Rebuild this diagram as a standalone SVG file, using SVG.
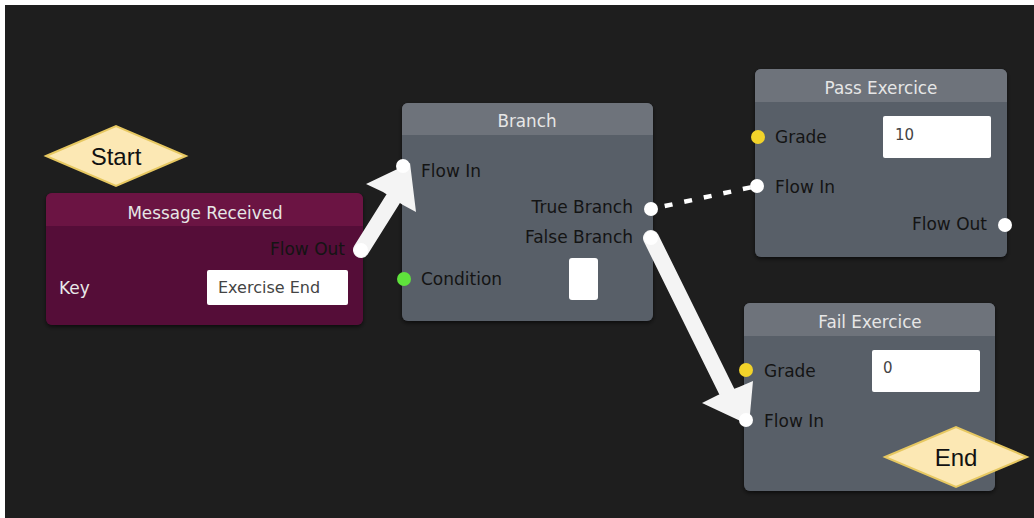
<svg xmlns="http://www.w3.org/2000/svg" width="1034" height="518" viewBox="0 0 1034 518">
<defs>
<style>
.lbl{font-family:"DejaVu Sans","Liberation Sans",sans-serif;font-size:17px;fill:#141414}
.ttl{font-family:"DejaVu Sans","Liberation Sans",sans-serif;font-size:16.8px;fill:#e6e6e6;text-anchor:middle}
.val{font-family:"DejaVu Sans","Liberation Sans",sans-serif;font-size:15px;fill:#444}
.big{font-family:"Liberation Sans",Arial,sans-serif;font-size:24px;fill:#111;text-anchor:middle}
.r{text-anchor:end}
.body{fill:#585e67}
.head{fill:#6e737b}
.box{fill:#ffffff}
.pw{fill:#ffffff}
.py{fill:#f2d32a}
.pg{fill:#5fe23c}
.dia{fill:#fce8b4;stroke:#e7c861;stroke-width:2}
</style>
<filter id="sh" x="-10%" y="-10%" width="120%" height="130%">
<feDropShadow dx="0" dy="2" stdDeviation="2" flood-color="#000" flood-opacity="0.6"/>
</filter>
<clipPath id="c1"><rect x="46" y="193" width="317" height="132" rx="6"/></clipPath>
<clipPath id="c2"><rect x="402" y="103" width="251" height="218" rx="6"/></clipPath>
<clipPath id="c3"><rect x="755" y="69" width="252" height="188" rx="6"/></clipPath>
<clipPath id="c4"><rect x="744" y="303" width="251" height="188" rx="6"/></clipPath>
</defs>
<rect x="0" y="0" width="1034" height="518" fill="#ffffff"/>
<rect x="5" y="5" width="1029" height="513" fill="#1e1e1e"/>

<g id="start">
<polygon class="dia" points="46,156 116,126 186,156 116,186"/>
<text class="big" x="116" y="165">Start</text>
</g>

<g id="message-received">
<rect x="46" y="193" width="317" height="132" rx="6" fill="#550e37" filter="url(#sh)"/>
<rect x="46" y="193" width="317" height="33" fill="#6b1443" clip-path="url(#c1)"/>
<text class="ttl" x="205" y="219">Message Received</text>
<text class="lbl r" x="345" y="255">Flow Out</text>
<text class="lbl" x="59" y="294" style="fill:#e8e8e8">Key</text>
<rect class="box" x="207" y="270" width="141" height="35" rx="2"/>
<text class="val" x="218" y="293" style="font-size:16px">Exercise End</text>
</g>

<g id="branch">
<rect class="body" x="402" y="103" width="251" height="218" rx="6" filter="url(#sh)"/>
<rect class="head" x="402" y="103" width="251" height="32" clip-path="url(#c2)"/>
<text class="ttl" x="527" y="127">Branch</text>
<text class="lbl" x="421" y="177">Flow In</text>
<text class="lbl r" x="633" y="213">True Branch</text>
<text class="lbl r" x="633" y="243">False Branch</text>
<text class="lbl" x="421" y="285">Condition</text>
<rect class="box" x="569" y="258" width="29" height="42" rx="3"/>
<circle class="pg" cx="404" cy="279" r="7"/>
</g>

<g id="pass-exercice">
<rect class="body" x="755" y="69" width="252" height="188" rx="6" filter="url(#sh)"/>
<rect class="head" x="755" y="69" width="252" height="33" clip-path="url(#c3)"/>
<text class="ttl" x="881" y="94">Pass Exercice</text>
<text class="lbl" x="775" y="143">Grade</text>
<rect class="box" x="883" y="116" width="108" height="42" rx="2"/>
<text class="val" x="895" y="140">10</text>
<text class="lbl" x="775" y="193">Flow In</text>
<text class="lbl r" x="987" y="230">Flow Out</text>
<circle class="py" cx="758" cy="137" r="7"/>
<circle class="pw" cx="757" cy="186" r="7"/>
<circle class="pw" cx="1005" cy="225" r="7"/>
</g>

<g id="fail-exercice">
<rect class="body" x="744" y="303" width="251" height="188" rx="6" filter="url(#sh)"/>
<rect class="head" x="744" y="303" width="251" height="33" clip-path="url(#c4)"/>
<text class="ttl" x="870" y="328">Fail Exercice</text>
<text class="lbl" x="764" y="377">Grade</text>
<rect class="box" x="872" y="350" width="108" height="42" rx="2"/>
<text class="val" x="883" y="373">0</text>
<text class="lbl" x="764" y="427">Flow In</text>
<circle class="py" cx="746" cy="370" r="7"/>
</g>

<g id="end">
<polygon class="dia" points="885,457 956,427 1027,457 956,487"/>
<text class="big" x="956" y="466">End</text>
</g>

<g id="connectors">
<line x1="651" y1="209" x2="757" y2="186" stroke="#ffffff" stroke-width="4.5" stroke-dasharray="8,12" stroke-dashoffset="-14"/>
<line x1="361" y1="250" x2="393" y2="199" stroke="#f4f4f4" stroke-width="16" stroke-linecap="round"/>
<polygon points="366,184 410,163 416,212 403,205 383,192" fill="#f4f4f4"/>
<line x1="651" y1="238" x2="727" y2="392" stroke="#f4f4f4" stroke-width="16" stroke-linecap="round"/>
<polygon points="702,403 749,425 753,381 739,387 718,395" fill="#f4f4f4"/>
<circle class="pw" cx="361" cy="250" r="7"/>
<circle class="pw" cx="403" cy="166" r="7"/>
<circle class="pw" cx="651" cy="209" r="7"/>
<circle class="pw" cx="651" cy="238" r="7"/>
<circle class="pw" cx="746" cy="420" r="7"/>
</g>
</svg>
